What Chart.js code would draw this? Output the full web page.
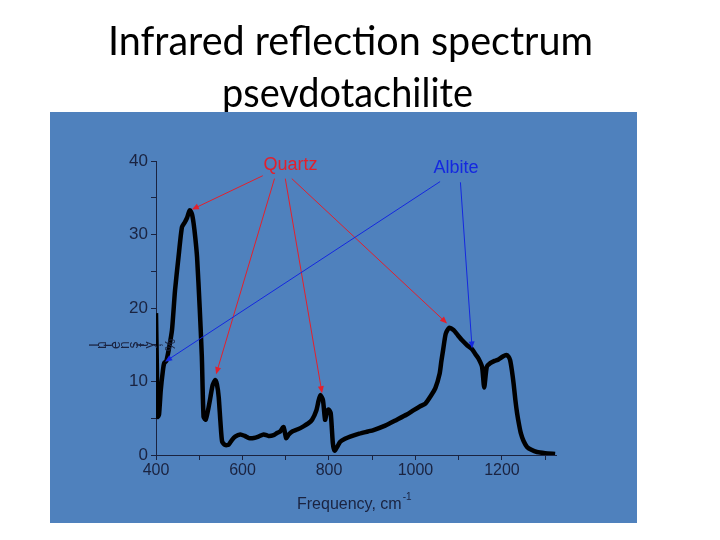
<!DOCTYPE html>
<html>
<head>
<meta charset="utf-8">
<script src="https://cdn.jsdelivr.net/npm/chart.js@4.4.1/dist/chart.umd.min.js"></script>
<style>
  html, body { margin: 0; padding: 0; background: #fff; }
</style>
</head>
<body>
<canvas id="canvas" width="720" height="540"></canvas>
<script>
// spectrum (frequency in cm-1, intensity in %)
const freq = [400, 402, 404, 407, 411, 416, 419, 424, 430, 437, 444, 452, 460, 467, 472, 478, 483, 487, 491, 495,
  501, 506, 510, 515, 520, 526, 531, 537, 541, 545, 549, 553, 560, 568, 575, 583, 595, 605, 615, 626,
  637, 649, 660, 672, 680, 687, 695, 701, 707, 715, 728, 741, 752, 761, 771, 776, 780, 786, 791, 795,
  799, 804, 809, 813, 819, 826, 837, 849, 870, 890, 903, 930, 957, 980, 996, 1010, 1023, 1035, 1046, 1056,
  1060, 1064, 1070, 1078, 1088, 1098, 1108, 1120, 1131, 1140, 1146, 1154, 1159, 1165, 1173, 1183, 1192, 1202, 1210, 1215,
  1219, 1223, 1227, 1231, 1235, 1240, 1244, 1250, 1258, 1268, 1281, 1300, 1323]
const intensity = [19.3, 12, 5.2, 5.5, 8.8, 11.5, 12.5, 12.8, 14.5, 17, 22.4, 26.9, 31, 31.7, 32.3, 33.3, 32.8, 31.5, 29.5, 26.9,
  20.1, 13.4, 5.2, 4.8, 6.0, 7.9, 9.5, 10.2, 9.6, 7.9, 4.5, 1.8, 1.36, 1.4, 2.0, 2.5, 2.8, 2.6, 2.3, 2.3,
  2.5, 2.8, 2.6, 2.7, 3.0, 3.2, 3.8, 2.3, 2.8, 3.2, 3.5, 3.9, 4.3, 4.8, 6.1, 7.4, 8.15, 7.5, 4.8, 5.8,
  6.2, 5.7, 1.6, 0.6, 1.1, 1.8, 2.2, 2.5, 2.9, 3.2, 3.4, 4.0, 4.8, 5.5, 6.1, 6.6, 7.0, 8.0, 9.1, 11.1,
  12.8, 14.3, 16.5, 17.3, 17.0, 16.3, 15.6, 14.9, 14.4, 13.6, 13.1, 12.0, 9.2, 12.0, 12.5, 12.8, 13.0, 13.4, 13.6, 13.4,
  12.9, 11.5, 9.7, 7.5, 5.7, 4.0, 2.9, 1.9, 1.1, 0.7, 0.4, 0.25, 0.15]

const xTickLabels = [400, 600, 800, 1000, 1200]
const xMinorTicks = [500, 700, 900, 1100, 1300]
const yTickLabels = [0, 10, 20, 30, 40]
const yMinorTicks = [5, 15, 25, 35]

// annotation arrows in data units: [fromX, fromY, toX, toY]
const quartzArrows = [[647, 38.0, 483, 33.4], [674, 37.6, 539, 11.0], [699, 37.6, 784, 8.4], [714, 37.6, 1073, 17.9]]
const albiteArrows = [[1057, 37.2, 421, 12.7], [1104, 37.1, 1131, 14.5]]

const axisColor = '#1a2340'
const fontFamily = '"Liberation Sans", Arial, sans-serif'

const points = freq.map((f, i) => ({ x: f, y: intensity[i] }))

function fitText(ctx, text, cx, y, width) {
  const w = ctx.measureText(text).width
  ctx.save()
  ctx.translate(cx, y)
  ctx.scale(width / w, 1)
  ctx.textAlign = 'center'
  ctx.fillText(text, 0, 0)
  ctx.restore()
}

function arrow(ctx, x1, y1, x2, y2, color) {
  const a = Math.atan2(y2 - y1, x2 - x1)
  ctx.strokeStyle = color
  ctx.fillStyle = color
  ctx.lineWidth = 1
  ctx.beginPath()
  ctx.moveTo(x1, y1)
  ctx.lineTo(x2 - 5 * Math.cos(a), y2 - 5 * Math.sin(a))
  ctx.stroke()
  ctx.beginPath()
  ctx.moveTo(x2, y2)
  ctx.lineTo(x2 - 7 * Math.cos(a) + 3 * Math.sin(a), y2 - 7 * Math.sin(a) - 3 * Math.cos(a))
  ctx.lineTo(x2 - 7 * Math.cos(a) - 3 * Math.sin(a), y2 - 7 * Math.sin(a) + 3 * Math.cos(a))
  ctx.closePath()
  ctx.fill()
}

const slide = {
  id: 'slide',
  beforeDraw(chart) {
    const ctx = chart.ctx
    ctx.save()
    ctx.fillStyle = '#fff'
    ctx.fillRect(0, 0, 720, 540)
    ctx.fillStyle = '#000'
    ctx.font = '40px Lato'
    ctx.textBaseline = 'alphabetic'
    fitText(ctx, 'Infrared reflection spectrum', 350.5, 55, 485)
    fitText(ctx, 'psevdotachilite', 347.5, 107, 251)
    ctx.fillStyle = '#4f81bd'
    ctx.fillRect(50, 112, 587, 411)
    ctx.restore()
  },
  afterDraw(chart) {
    const ctx = chart.ctx
    const xs = chart.scales.x, ys = chart.scales.y
    ctx.save()

    // axis title
    ctx.fillStyle = axisColor
    ctx.textBaseline = 'alphabetic'
    ctx.textAlign = 'left'
    ctx.font = '16px ' + fontFamily
    const t = 'Frequency, cm'
    const tw = ctx.measureText(t).width
    const tx = 297
    ctx.fillText(t, tx, 509)
    ctx.font = '10px ' + fontFamily
    ctx.fillText('-1', tx + tw + 1, 500)

    // y title, garbled glyph by glyph as in the picture
    ctx.font = '14px ' + fontFamily
    const yt = 'Intensity, %'
    const total = ctx.measureText(yt).width
    const k = 84 / total
    let px = 93
    for (const ch of yt) {
      const w = ctx.measureText(ch).width * k
      ctx.save()
      ctx.translate(px + w / 2, 345)
      ctx.rotate(-Math.PI / 2)
      ctx.textAlign = 'center'
      ctx.textBaseline = 'middle'
      ctx.fillText(ch, 0, 0)
      ctx.restore()
      px += w
    }

    // annotations
    ctx.font = '18px ' + fontFamily
    ctx.textAlign = 'center'
    ctx.textBaseline = 'middle'
    ctx.fillStyle = '#e3202c'
    ctx.fillText('Quartz', xs.getPixelForValue(711), ys.getPixelForValue(39.5))
    ctx.fillStyle = '#1428e0'
    ctx.fillText('Albite', xs.getPixelForValue(1094), ys.getPixelForValue(39.1))
    for (const a of quartzArrows) {
      arrow(ctx, xs.getPixelForValue(a[0]), ys.getPixelForValue(a[1]), xs.getPixelForValue(a[2]), ys.getPixelForValue(a[3]), '#e3202c')
    }
    for (const a of albiteArrows) {
      arrow(ctx, xs.getPixelForValue(a[0]), ys.getPixelForValue(a[1]), xs.getPixelForValue(a[2]), ys.getPixelForValue(a[3]), '#1428e0')
    }
    ctx.restore()
  }
}

const config = {
  type: 'line',
  data: {
    datasets: [{
      data: points,
      borderColor: '#000',
      borderWidth: 4.5,
      pointRadius: 0,
      tension: 0.2,
      fill: false,
    }],
  },
  options: {
    responsive: false,
    animation: false,
    layout: { padding: { left: 0, top: 161, right: 164, bottom: 0 } },
    plugins: { legend: { display: false }, tooltip: { enabled: false } },
    scales: {
      x: {
        type: 'linear',
        min: 400,
        max: 1325,
        afterBuildTicks: s => { s.ticks = [...xTickLabels, ...xMinorTicks].sort((a, b) => a - b).map(v => ({ value: v })) },
        afterFit: s => { s.height = 85 },
        ticks: {
          callback: v => xTickLabels.includes(v) ? String(v) : '',
          font: { family: fontFamily, size: 16 },
          color: axisColor,
          padding: 1,
          maxRotation: 0,
          autoSkip: false,
        },
        grid: { drawOnChartArea: false, drawTicks: true, tickLength: 5, color: axisColor },
        border: { display: true, color: axisColor, width: 1 },
      },
      y: {
        min: 0,
        max: 40,
        afterBuildTicks: s => { s.ticks = [...yTickLabels, ...yMinorTicks].sort((a, b) => a - b).map(v => ({ value: v })) },
        afterFit: s => { s.width = 156 },
        ticks: {
          callback: v => yTickLabels.includes(v) ? String(v) : '',
          font: { family: fontFamily, size: 17 },
          color: axisColor,
          padding: 3,
          autoSkip: false,
        },
        grid: { drawOnChartArea: false, drawTicks: true, tickLength: 5, color: axisColor },
        border: { display: true, color: axisColor, width: 1 },
      },
    },
  },
  plugins: [slide],
}

const canvas = document.getElementById('canvas')
const chart = new Chart(canvas, config)
</script>
</body>
</html>
